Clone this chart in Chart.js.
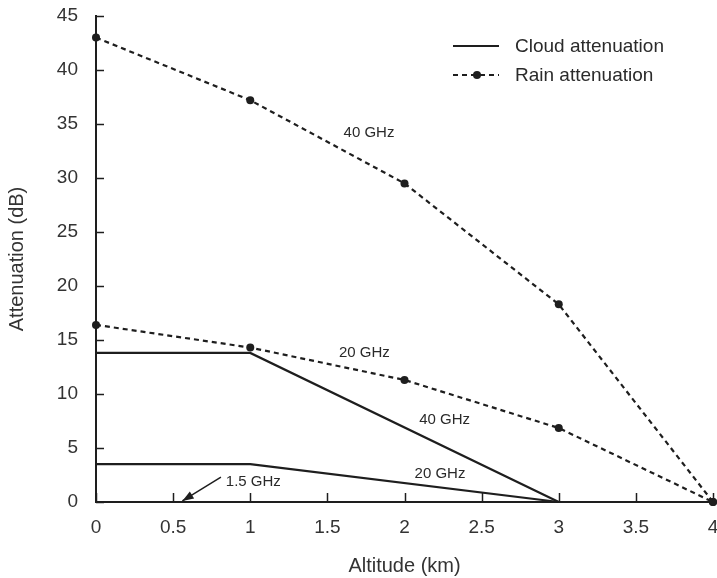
<!DOCTYPE html>
<html>
<head>
<meta charset="utf-8">
<script src="https://cdn.jsdelivr.net/npm/chart.js@4/dist/chart.umd.min.js"></script>
<style>
html,body{margin:0;padding:0;background:#fff;}
#wrap{width:717px;height:578px;position:relative;}
</style>
</head>
<body>
<div id="wrap"><canvas id="c" width="717" height="578"></canvas></div>
<script>
// ---- data ----
const altitudes = [0, 1, 2, 3, 4];
const rain40 = [43.0, 37.2, 29.5, 18.3, 0];
const rain20 = [16.4, 14.3, 11.3, 6.85, 0];
const cloudAltitudes = [0, 1, 3];
const cloud40 = [13.8, 13.8, 0];
const cloud20 = [3.5, 3.5, 0];
const xTicks = [0, 0.5, 1, 1.5, 2, 2.5, 3, 3.5, 4];
const yTicks = [0, 5, 10, 15, 20, 25, 30, 35, 40, 45];
const legendLabels = ['Cloud attenuation', 'Rain attenuation'];
const curveLabels = ['40 GHz', '20 GHz', '40 GHz', '20 GHz', '1.5 GHz'];
const curveLabelX = [1.77, 1.74, 2.26, 2.23, 1.02];
const curveLabelY = [34.2, 13.8, 7.6, 2.6, 1.85];
const arrowFrom = {x: 0.81, y: 2.3};
const arrowTo = {x: 0.56, y: 0.1};

const INK = '#1e1e1e';
const FONT = '"Liberation Sans", Arial, sans-serif';
const toXY = (xs, ys) => xs.map((x, i) => ({x, y: ys[i]}));

const overlay = {
  id: 'overlay',
  afterDatasetsDraw(chart) {
    const {ctx, scales: {x, y}, chartArea} = chart;
    ctx.save();
    // inner ticks
    ctx.strokeStyle = INK; ctx.lineWidth = 1.5;
    yTicks.forEach(v => {
      const py = Math.round(y.getPixelForValue(v)) + 0.5;
      ctx.beginPath(); ctx.moveTo(chartArea.left, py); ctx.lineTo(chartArea.left + 8, py); ctx.stroke();
    });
    xTicks.forEach(v => {
      const px = Math.round(x.getPixelForValue(v)) + 0.5;
      ctx.beginPath(); ctx.moveTo(px, chartArea.bottom); ctx.lineTo(px, chartArea.bottom - 9); ctx.stroke();
    });
    // curve labels
    ctx.fillStyle = '#2a2a2a';
    ctx.font = '15px ' + FONT;
    ctx.textAlign = 'center'; ctx.textBaseline = 'middle';
    curveLabels.forEach((t, i) => {
      ctx.fillText(t, x.getPixelForValue(curveLabelX[i]), y.getPixelForValue(curveLabelY[i]));
    });
    // arrow
    const ax0 = x.getPixelForValue(arrowFrom.x), ay0 = y.getPixelForValue(arrowFrom.y);
    const ax1 = x.getPixelForValue(arrowTo.x), ay1 = y.getPixelForValue(arrowTo.y);
    ctx.strokeStyle = INK; ctx.lineWidth = 1.5;
    ctx.beginPath(); ctx.moveTo(ax0, ay0); ctx.lineTo(ax1, ay1); ctx.stroke();
    const ang = Math.atan2(ay1 - ay0, ax1 - ax0);
    ctx.fillStyle = INK;
    ctx.beginPath();
    ctx.moveTo(ax1, ay1);
    ctx.lineTo(ax1 - 12 * Math.cos(ang - 0.35), ay1 - 12 * Math.sin(ang - 0.35));
    ctx.lineTo(ax1 - 12 * Math.cos(ang + 0.35), ay1 - 12 * Math.sin(ang + 0.35));
    ctx.closePath(); ctx.fill();
    // legend
    const lx0 = 453, lx1 = 499, tx = 515;
    ctx.font = '19px ' + FONT;
    ctx.textAlign = 'left'; ctx.fillStyle = '#2a2a2a';
    ctx.strokeStyle = INK; ctx.lineWidth = 2;
    ctx.beginPath(); ctx.moveTo(lx0, 46); ctx.lineTo(lx1, 46); ctx.stroke();
    ctx.fillText(legendLabels[0], tx, 47);
    ctx.setLineDash([5, 4]);
    ctx.beginPath(); ctx.moveTo(lx0, 75); ctx.lineTo(lx1, 75); ctx.stroke();
    ctx.setLineDash([]);
    ctx.fillStyle = INK;
    ctx.beginPath(); ctx.arc(477, 75, 4, 0, Math.PI * 2); ctx.fill();
    ctx.fillStyle = '#2a2a2a';
    ctx.fillText(legendLabels[1], tx, 76);
    ctx.restore();
  }
};

const rainStyle = {
  borderColor: INK, backgroundColor: INK, borderWidth: 2.2, borderDash: [5, 4],
  pointRadius: 4, pointBackgroundColor: INK, pointBorderWidth: 0, tension: 0, fill: false, showLine: true, clip: false
};
const cloudStyle = {
  borderColor: INK, backgroundColor: INK, borderWidth: 2.2, pointRadius: 0, tension: 0, fill: false, showLine: true, clip: false
};

new Chart(document.getElementById('c'), {
  type: 'scatter',
  data: {
    datasets: [
      Object.assign({label: 'Rain 40 GHz', data: toXY(altitudes, rain40)}, rainStyle),
      Object.assign({label: 'Rain 20 GHz', data: toXY(altitudes, rain20)}, rainStyle),
      Object.assign({label: 'Cloud 40 GHz', data: toXY(cloudAltitudes, cloud40)}, cloudStyle),
      Object.assign({label: 'Cloud 20 GHz', data: toXY(cloudAltitudes, cloud20)}, cloudStyle)
    ]
  },
  options: {
    responsive: false,
    animation: false,
    events: [],
    layout: {padding: {top: 16, right: 3, left: 0, bottom: 0}},
    plugins: {legend: {display: false}, tooltip: {enabled: false}},
    scales: {
      x: {
        type: 'linear', min: 0, max: 4,
        afterBuildTicks: s => { s.ticks = xTicks.map(v => ({value: v})); },
        afterFit: s => { s.height = 76; s.paddingRight = 0; s.paddingLeft = 0; },
        grid: {display: true, drawOnChartArea: false, drawTicks: false},
        border: {display: true, color: INK, width: 2},
        ticks: {color: '#333', font: {family: FONT, size: 19}, padding: 14, maxRotation: 0,
                callback: v => String(v)},
        title: {display: true, text: 'Altitude (km)', color: '#333',
                font: {family: FONT, size: 20}, padding: {top: 3, bottom: 0}}
      },
      y: {
        type: 'linear', min: 0, max: 45,
        afterBuildTicks: s => { s.ticks = yTicks.map(v => ({value: v})); },
        afterFit: s => { s.width = 96; s.paddingTop = 0; s.paddingBottom = 0; },
        grid: {display: true, drawOnChartArea: false, drawTicks: false},
        border: {display: true, color: INK, width: 2},
        ticks: {color: '#333', font: {family: FONT, size: 19}, padding: 18},
        title: {display: true, text: 'Attenuation (dB)', color: '#333',
                font: {family: FONT, size: 20}, padding: {top: 5, bottom: 0}}
      }
    }
  },
  plugins: [overlay]
});
</script>
</body>
</html>
